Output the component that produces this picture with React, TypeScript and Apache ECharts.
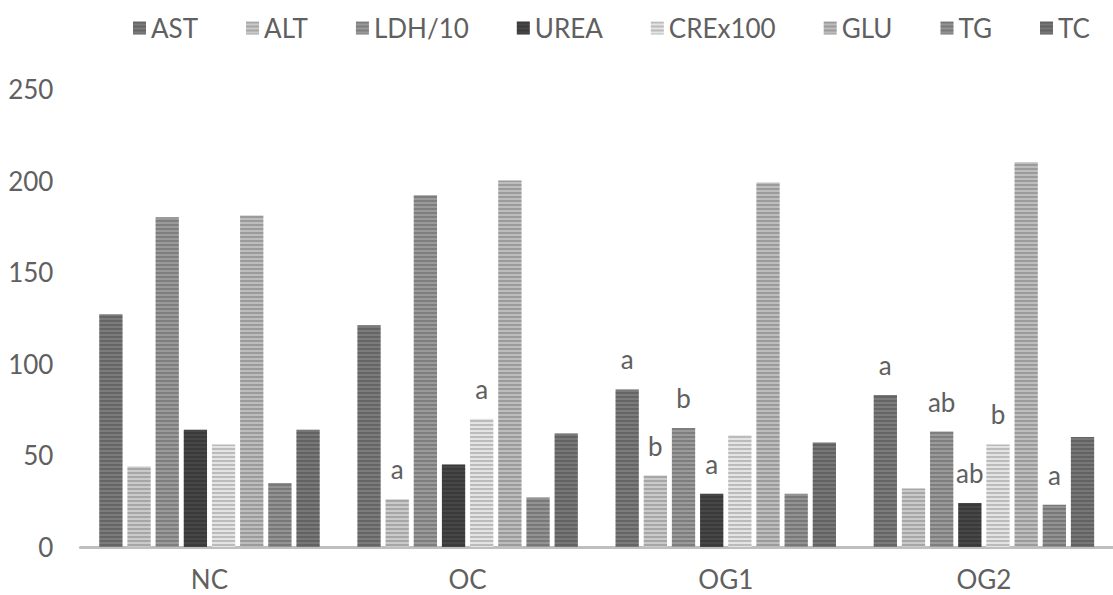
import React, { useEffect, useRef } from "react";
import * as echarts from "echarts";

const categories = ["NC", "OC", "OG1", "OG2"];
const seriesNames = ["AST", "ALT", "LDH/10", "UREA", "CREx100", "GLU", "TG", "TC"];

const astValues = [127, 121, 86, 83];
const altValues = [44, 26, 39, 32];
const ldhValues = [180, 192, 65, 63];
const ureaValues = [64, 45, 29, 24];
const creValues = [56, 70, 61, 56];
const gluValues = [181, 200, 199, 210];
const tgValues = [35, 27, 29, 23];
const tcValues = [64, 62, 57, 60];

const astLabels = ["", "", "a", "a"];
const altLabels = ["", "a", "b", ""];
const ldhLabels = ["", "", "b", "ab"];
const ureaLabels = ["", "", "a", "ab"];
const creLabels = ["", "a", "", "b"];
const gluLabels = ["", "", "", ""];
const tgLabels = ["", "", "", "a"];
const tcLabels = ["", "", "", ""];

const yTicks = [0, 50, 100, 150, 200, 250];

const allValues = [astValues, altValues, ldhValues, ureaValues, creValues, gluValues, tgValues, tcValues];
const allLabels = [astLabels, altLabels, ldhLabels, ureaLabels, creLabels, gluLabels, tgLabels, tcLabels];
const colors = ["#7b7b7b", "#cacaca", "#9a9a9a", "#474747", "#e4e4e4", "#bdbdbd", "#939393", "#777777"];

const FONT = "Lato, 'Open Sans', sans-serif";
const TEXT = "#606060";

export default function App() {
  const ref = useRef<HTMLDivElement>(null);
  useEffect(() => {
    if (!ref.current) return;
    const chart = echarts.init(ref.current, undefined, { renderer: "svg" });
    const series = seriesNames.map((name, i) => ({
      name,
      type: "bar" as const,
      data: allValues[i],
      barGap: "21%",
      barCategoryGap: "14.6%",
      itemStyle: {
        color: colors[i],
        decal: {
          symbol: "rect",
          symbolSize: 1,
          dashArrayX: [10, 0],
          dashArrayY: [2, 2],
          color: "rgba(0,0,0,0.18)",
        },
      },
      label: {
        show: true,
        position: "top" as const,
        distance: 17,
        fontSize: 26,
        fontFamily: FONT,
        color: TEXT,
        formatter: (p: any) => allLabels[i][p.dataIndex] || "",
      },
    }));
    chart.setOption({
      animation: false,
      backgroundColor: "#ffffff",
      textStyle: { fontFamily: FONT },
      legend: {
        left: 128,
        top: 10,
        icon: "rect",
        itemWidth: 13,
        itemHeight: 13,
        itemGap: 48,
        textStyle: { fontSize: 26, color: TEXT, fontFamily: FONT },
        data: seriesNames,
      },
      grid: { left: 80.4, right: -10.2, top: 89, bottom: 48, containLabel: false },
      xAxis: {
        type: "category",
        data: categories,
        axisLine: { lineStyle: { color: "#bfbfbf", width: 3 } },
        axisTick: { show: false },
        axisLabel: { fontSize: 26, color: TEXT, fontFamily: FONT, margin: 19 },
      },
      yAxis: {
        type: "value",
        min: yTicks[0],
        max: yTicks[yTicks.length - 1],
        interval: 50,
        axisLine: { show: false },
        axisTick: { show: false },
        splitLine: { show: false },
        axisLabel: { fontSize: 26, color: TEXT, fontFamily: FONT, margin: 27 },
      },
      series,
    });
    return () => chart.dispose();
  }, []);
  return (
    <div
      ref={ref}
      style={{ position: "absolute", left: 0, top: 0, width: 1113, height: 595, background: "#fff" }}
    />
  );
}
